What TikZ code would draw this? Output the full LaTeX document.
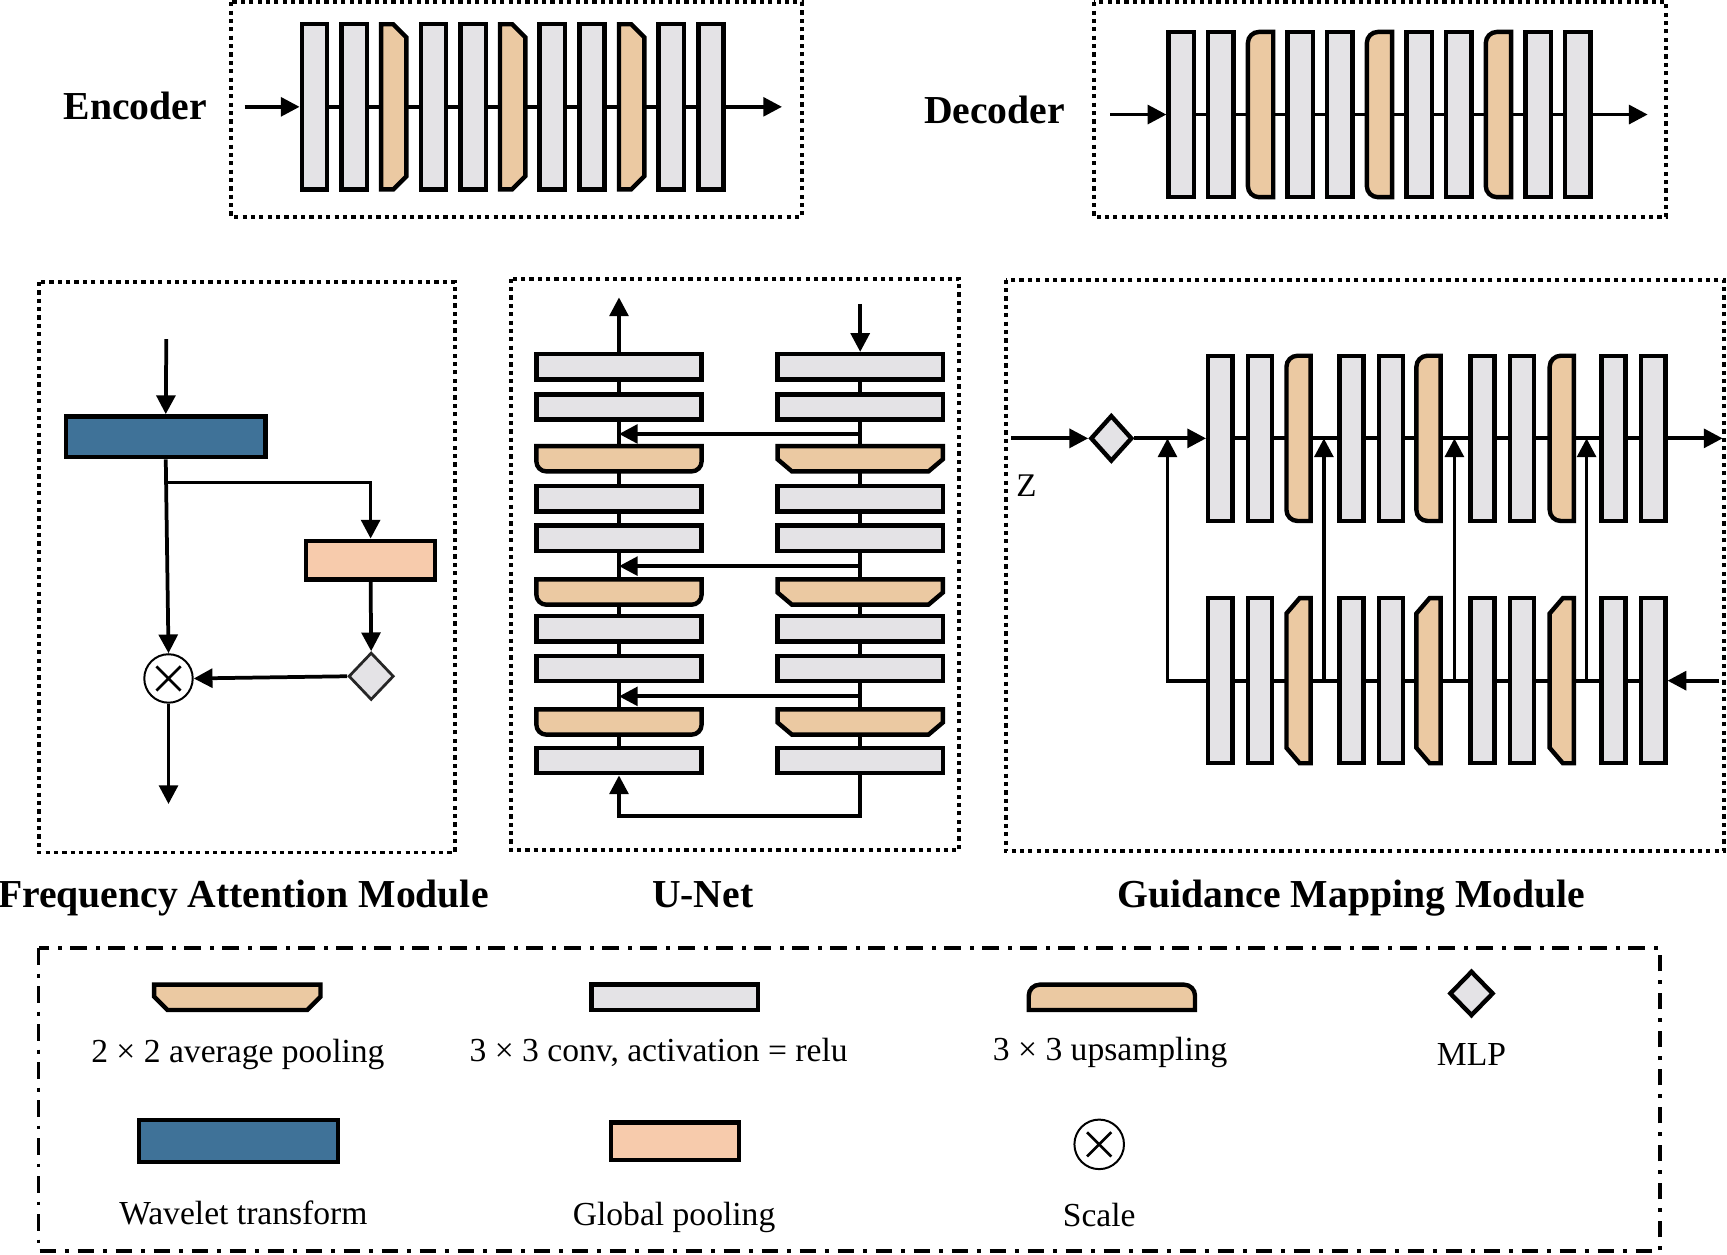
\documentclass[tikz,border=0pt]{standalone}
\usepackage{fontspec}
\setmainfont{Liberation Serif}
\usetikzlibrary{arrows.meta,shapes.geometric,calc,backgrounds}
\pgfdeclarelayer{back0}
\pgfsetlayers{back0,background,main}
\definecolor{convgray}{HTML}{E4E3E6}
\definecolor{tanc}{HTML}{EBC9A2}
\definecolor{wblue}{HTML}{3F7298}
\definecolor{peach}{HTML}{F7CBAC}
\tikzset{
  convbar/.style={rectangle, draw=black, fill=convgray, line width=4pt, inner sep=0pt},
  ghost/.style={rectangle, draw=none, fill=none, inner sep=0pt, outer sep=0pt},
  tanfill/.style={draw=black, fill=tanc, line width=4pt, line join=miter},
  arr/.style={line width=3.4pt, -{Triangle[length=17pt,width=17pt]}},
  ln/.style={line width=3.4pt},
  dotbox/.style={draw=black, line width=3.6pt, dash pattern=on 3.8pt off 3.8pt},
  dashdotbox/.style={draw=black, line width=3.4pt, dash pattern=on 15pt off 8pt on 3.5pt off 8pt},
  ttl/.style={font=\fontsize{36}{40}\selectfont\bfseries, inner sep=0pt, anchor=base},
  lab/.style={font=\fontsize{30.5}{36}\selectfont, inner sep=0pt, anchor=base},
  mlpd/.style={diamond, draw=black, fill=convgray, line width=4pt, inner sep=0pt},
  scalec/.style={circle, draw=black, line width=1.8pt, inner sep=0pt,
    path picture={\draw[line width=2.4pt]
      ([shift={(-11pt,-11pt)}]path picture bounding box.center) -- ([shift={(11pt,11pt)}]path picture bounding box.center)
      ([shift={(-11pt,11pt)}]path picture bounding box.center) -- ([shift={(11pt,-11pt)}]path picture bounding box.center);}},
}
% chamfered right corners
\newcommand{\shPoolR}[2]{\draw[tanfill] (#1.north west) -- ([xshift=-#2]#1.north east) -- ([yshift=-#2]#1.north east) -- ([yshift=#2]#1.south east) -- ([xshift=-#2]#1.south east) -- (#1.south west) -- cycle;}
% rounded left corners
\newcommand{\shUpL}[2]{\draw[tanfill] (#1.north east) -- ([xshift=#2]#1.north west) arc[start angle=90,end angle=180,radius=#2] -- ([yshift=#2]#1.south west) arc[start angle=180,end angle=270,radius=#2] -- (#1.south east) -- cycle;}
% chamfered left corners
\newcommand{\shPoolL}[3]{\draw[tanfill] (#1.north east) -- ([xshift=#2]#1.north west) -- ([yshift=-#3]#1.north west) -- ([yshift=#3]#1.south west) -- ([xshift=#2]#1.south west) -- (#1.south east) -- cycle;}
% rounded bottom corners
\newcommand{\shUpB}[2]{\draw[tanfill] (#1.north west) -- (#1.north east) -- ([yshift=#2]#1.south east) arc[start angle=0,end angle=-90,radius=#2] -- ([xshift=#2]#1.south west) arc[start angle=270,end angle=180,radius=#2] -- cycle;}
% chamfered bottom corners
\newcommand{\shPoolB}[3]{\draw[tanfill] (#1.north west) -- (#1.north east) -- ([yshift=#3]#1.south east) -- ([xshift=-#2]#1.south east) -- ([xshift=#2]#1.south west) -- ([yshift=#3]#1.south west) -- cycle;}
% rounded top corners
\newcommand{\shUpT}[2]{\draw[tanfill] (#1.south west) -- ([yshift=-#2]#1.north west) arc[start angle=180,end angle=90,radius=#2] -- ([xshift=-#2]#1.north east) arc[start angle=90,end angle=0,radius=#2] -- (#1.south east) -- cycle;}

\begin{document}
\begin{tikzpicture}[x=1pt,y=-1pt]
\useasboundingbox (0,0) rectangle (1568,1139);
\begin{pgfonlayer}{back0}
  \fill[white] (0,0) rectangle (1568,1139);
\end{pgfonlayer}

% ================= Encoder =================
\draw[dotbox] (210,2) rectangle (728,197);
\node[ttl] (tEnc) at (123,108.5) {Encoder};
\foreach \k/\x in {1/285.5,2/321.5,4/393.5,5/429.5,7/501.5,8/537.5,10/609.5,11/645.5}
  \node[convbar, minimum width=23pt, minimum height=150pt] (e\k) at (\x,97) {};
\foreach \k/\x in {3/357.5,6/465.5,9/573.5}{
  \node[ghost, minimum width=23pt, minimum height=150pt] (e\k) at (\x,97) {};
  \shPoolR{e\k}{12pt}}
\coordinate (ein) at (222,97);
\coordinate (eout) at (710,97);
\draw[arr] (ein) -- (e1.west);
\draw[arr] (e11.east) -- (eout);

% ================= Decoder =================
\draw[dotbox] (993,2) rectangle (1513,197);
\node[ttl] (tDec) at (903,112.5) {Decoder};
\foreach \k/\x in {1/1072.5,2/1108.5,4/1180.5,5/1216.5,7/1288.5,8/1324.5,10/1396.5,11/1432.5}
  \node[convbar, minimum width=23pt, minimum height=150pt] (d\k) at (\x,104) {};
\foreach \k/\x in {3/1144.5,6/1252.5,9/1360.5}{
  \node[ghost, minimum width=23pt, minimum height=150pt] (d\k) at (\x,104) {};
  \shUpL{d\k}{10pt}}
\coordinate (din) at (1008,104);
\coordinate (dout) at (1496,104);
\draw[arr] (din) -- (d1.west);
\draw[arr] (d11.east) -- (dout);

% ================= Frequency Attention Module =================
\draw[dotbox] (35,256) rectangle (413,774);
\node[rectangle, draw=black, fill=wblue, line width=4pt, inner sep=0pt, minimum width=181pt, minimum height=37pt] (wt) at (150.5,396.5) {};
\node[rectangle, draw=black, fill=peach, line width=4pt, inner sep=0pt, minimum width=117pt, minimum height=35pt] (gp) at (336.5,508.5) {};
\node[mlpd, line width=2.5pt, draw=black!85, minimum width=41pt, minimum height=43pt] (fm) at (337,614) {};
\node[scalec, minimum size=44pt] (sc) at (153,616) {};
\coordinate (fin) at (151,308);
\coordinate (fout) at (153,730);
\draw[arr] (fin) -- (wt.north);
\draw[arr] (wt.south) -- (sc.north);
\draw[arr] (wt.south) ++(0,21) -| (gp.north);
\draw[arr] (gp.south) -- (fm.north);
\draw[arr] (fm.west) -- (sc.east);
\draw[arr] (sc.south) -- (fout);
\node[ttl] (tFam) at (221,824) {Frequency Attention Module};

% ================= U-Net =================
\draw[dotbox] (464,253) rectangle (871,772);
\foreach \k/\y in {1/333,2/369.5,4/453,5/488.5,7/571,8/607,10/690.5}{
  \node[convbar, minimum width=150pt, minimum height=23pt] (l\k) at (562,\y) {};
  \node[convbar, minimum width=150pt, minimum height=23pt] (r\k) at (781,\y) {};}
\foreach \k/\y in {3/416.5,6/537.5,9/655.5}{
  \node[ghost, minimum width=150pt, minimum height=23pt] (l\k) at (562,\y) {};
  \node[ghost, minimum width=150pt, minimum height=23pt] (r\k) at (781,\y) {};
  \shUpB{l\k}{9pt}
  \shPoolB{r\k}{13pt}{11pt}}
\coordinate (uout) at (562,270);
\coordinate (uin) at (781,276);
\draw[arr] (l1.north) -- (uout);
\draw[arr] (uin) -- (r1.north);
\draw[arr] ($(r2.south)!.5!(r3.north)$) -- ($(l2.south)!.5!(l3.north)$);
\draw[arr] ($(r5.south)!.5!(r6.north)$) -- ($(l5.south)!.5!(l6.north)$);
\draw[arr] ($(r8.south)!.5!(r9.north)$) -- ($(l8.south)!.5!(l9.north)$);
\draw[arr] (r10.south) -- ++(0,37) -| (l10.south);
\node[ttl] (tUnet) at (638,824) {U-Net};

% ================= Guidance Mapping Module =================
\draw[dotbox] (913,254) rectangle (1565,773);
\foreach \k/\x in {1/1108,2/1144,4/1227,5/1263,7/1346,8/1382,10/1465,11/1501}{
  \node[convbar, minimum width=22pt, minimum height=150pt] (t\k) at (\x,398) {};
  \node[convbar, minimum width=22pt, minimum height=150pt] (b\k) at (\x,618) {};}
\foreach \k/\x in {3/1179,6/1297,9/1418}{
  \node[ghost, minimum width=22pt, minimum height=150pt] (t\k) at (\x,398) {};
  \node[ghost, minimum width=22pt, minimum height=150pt] (b\k) at (\x,618) {};
  \shUpL{t\k}{10pt}
  \shPoolL{b\k}{12pt}{14pt}}
\node[mlpd, minimum width=38pt, minimum height=42pt] (gd) at (1009,398) {};
\node[font=\fontsize{30}{32}\selectfont, inner sep=0pt, anchor=base] (zl) at (932,451) {Z};
\coordinate (gin) at (918,398);
\coordinate (gout) at (1564,398);
\coordinate (bin) at (1561,618);
\coordinate (fb) at (1060,398);
\draw[arr] (gin) -- (gd.west);
\draw[arr] (gd.east) -- (t1.west);
\draw[arr] (t11.east) -- (gout);
\draw[arr] (bin) -- (b11.east);
\draw[arr] (b1.west) -| (fb);
\draw[arr] ($(b3.east)!.5!(b4.west)$) -- ($(t3.east)!.5!(t4.west)$);
\draw[arr] ($(b6.east)!.5!(b7.west)$) -- ($(t6.east)!.5!(t7.west)$);
\draw[arr] ($(b9.east)!.5!(b10.west)$) -- ($(t9.east)!.5!(t10.west)$);
\node[ttl] (tGmm) at (1227,824) {Guidance Mapping Module};

% ================= connecting lines behind the bars =================
\begin{pgfonlayer}{background}
  \draw[ln] (e1.center) -- (e11.center);
  \draw[ln] (d1.center) -- (d11.center);
  \draw[ln] (l1.center) -- (l10.center);
  \draw[ln] (r1.center) -- (r10.center);
  \draw[ln] (t1.center) -- (t11.center);
  \draw[ln] (b1.center) -- (b11.center);
\end{pgfonlayer}

% ================= Legend =================
\draw[dashdotbox] (35,861) rectangle (1507,1136);
\node[ghost, minimum width=151pt, minimum height=23pt] (lgp) at (215.5,905.5) {};
\shPoolB{lgp}{12pt}{12pt}
\node[convbar, minimum width=151pt, minimum height=23pt] (lgc) at (612.5,905.5) {};
\node[ghost, minimum width=151pt, minimum height=23pt] (lgu) at (1009.5,905.5) {};
\shUpT{lgu}{10pt}
\node[mlpd, minimum width=40pt, minimum height=41pt] (lgd) at (1336,902) {};
\node[rectangle, draw=black, fill=wblue, line width=4pt, inner sep=0pt, minimum width=181pt, minimum height=38pt] (lgw) at (216.5,1036) {};
\node[rectangle, draw=black, fill=peach, line width=4pt, inner sep=0pt, minimum width=116pt, minimum height=34pt] (lgg) at (613,1036) {};
\node[scalec, minimum size=45pt] (lgs) at (998,1039) {};

\node[lab] (lbap) at (216,965) {2 × 2 average pooling};
\node[lab] (lbcv) at (598,964) {3 × 3 conv, activation = relu};
\node[lab] (lbup) at (1008,963) {3 × 3 upsampling};
\node[lab] (lbml) at (1336,967) {MLP};
\node[lab] (lbwt) at (221,1112) {Wavelet transform};
\node[lab] (lbgp) at (612,1113) {Global pooling};
\node[lab] (lbsc) at (998,1114) {Scale};
\end{tikzpicture}
\end{document}
